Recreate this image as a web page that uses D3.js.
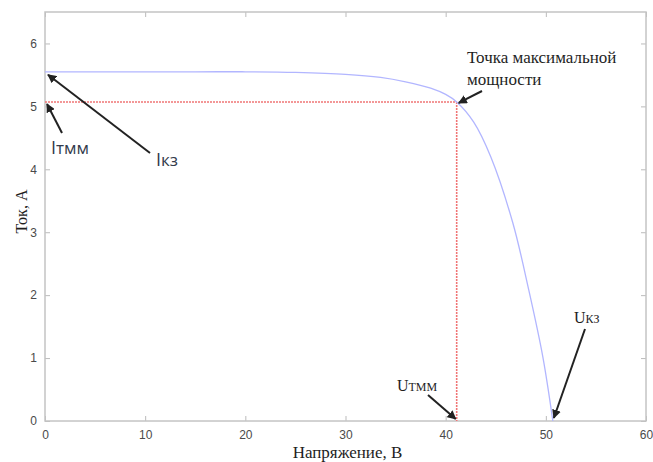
<!DOCTYPE html>
<html>
  <head>
    <meta charset="utf-8" />
    <style>
      body{
        margin: 0;
        background: white;
      }
      .tick text{
        font-family: 'Liberation Sans', Arial, sans-serif;
        font-size: 12px;
        fill: #4a4a4a;
      }
      .serif{
        font-family: 'Liberation Serif', 'Times New Roman', serif;
        fill: #1e1e1e;
      }
      .sans{
        font-family: 'Open Sans', sans-serif;
        fill: #333b4c;
      }
    </style>
  </head>
  <body>
    <script src="https://d3js.org/d3.v7.min.js"></script>
    <svg id="chart"></svg>
    <script>
      var width = 653;
      var height = 462;

      // I-V curve
      var voltage = [0, 5, 10, 15, 20, 25, 30, 33.5, 36, 38.5, 40, 41.1, 42.8, 44.5, 46.7, 48.3, 49.7, 50.7];
      var current = [5.55, 5.55, 5.55, 5.55, 5.55, 5.54, 5.51, 5.46, 5.39, 5.29, 5.19, 5.07, 4.75, 4.2, 3.15, 2.08, 1.02, 0];

      var mppVoltage = 41.1;
      var mppCurrent = 5.07;
      var iscCurrent = 5.55;
      var vocVoltage = 50.7;

      var xTicks = [0, 10, 20, 30, 40, 50, 60];
      var yTicks = [0, 1, 2, 3, 4, 5, 6];

      var margin = {top: 12, right: 7, bottom: 41, left: 45};
      var w = width - margin.left - margin.right;
      var h = height - margin.top - margin.bottom;

      var svg = d3.select("#chart")
        .attr("width", width)
        .attr("height", height);

      var defs = svg.append("defs");
      defs.append("marker")
        .attr("id", "arrow")
        .attr("viewBox", "0 0 10 10")
        .attr("refX", 9)
        .attr("refY", 5)
        .attr("markerWidth", 9)
        .attr("markerHeight", 9)
        .attr("markerUnits", "userSpaceOnUse")
        .attr("orient", "auto")
        .append("path")
        .attr("d", "M0,0 L10,5 L0,10 z")
        .attr("fill", "#222");

      var g = svg.append("g")
        .attr("transform", "translate(" + margin.left + "," + margin.top + ")");

      var x = d3.scaleLinear().domain([0, 60]).range([0, w]);
      var y = d3.scaleLinear().domain([0, 6.5]).range([h, 0]);

      // axes, ticks inside like matlab
      function styleAxis(sel) {
        sel.select(".domain").remove();
        sel.selectAll(".tick line").attr("stroke", "#bbb");
      }

      g.append("g")
        .attr("transform", "translate(0," + h + ")")
        .call(d3.axisBottom(x).tickValues(xTicks).tickSizeInner(-5).tickSizeOuter(0).tickPadding(9).tickFormat(d3.format("d")))
        .call(styleAxis);

      g.append("g")
        .call(d3.axisTop(x).tickValues(xTicks).tickSizeInner(-5).tickSizeOuter(0).tickFormat(""))
        .call(styleAxis);

      g.append("g")
        .call(d3.axisLeft(y).tickValues(yTicks).tickSizeInner(-5).tickSizeOuter(0).tickPadding(8).tickFormat(d3.format("d")))
        .call(styleAxis);

      g.append("g")
        .attr("transform", "translate(" + w + ",0)")
        .call(d3.axisRight(y).tickValues(yTicks).tickSizeInner(-5).tickSizeOuter(0).tickFormat(""))
        .call(styleAxis);

      g.append("rect")
        .attr("width", w)
        .attr("height", h)
        .attr("fill", "none")
        .attr("stroke", "#c4c4c4")
        .attr("stroke-width", 1.5);

      // max power point lines
      var red = "#f07575";
      g.append("line")
        .attr("x1", x(0)).attr("y1", y(mppCurrent))
        .attr("x2", x(mppVoltage)).attr("y2", y(mppCurrent))
        .attr("stroke", red).attr("stroke-width", 1.6)
        .attr("stroke-dasharray", "2,1");
      g.append("line")
        .attr("x1", x(mppVoltage)).attr("y1", y(mppCurrent))
        .attr("x2", x(mppVoltage)).attr("y2", y(0))
        .attr("stroke", red).attr("stroke-width", 1.6)
        .attr("stroke-dasharray", "2,1");

      var pts = voltage.map(function (v, i) { return [v, current[i]]; });
      var line = d3.line()
        .x(function (d) { return x(d[0]); })
        .y(function (d) { return y(d[1]); })
        .curve(d3.curveCatmullRom.alpha(0.5));

      g.append("path")
        .datum(pts)
        .attr("d", line)
        .attr("fill", "none")
        .attr("stroke", "#b2b6ff")
        .attr("stroke-width", 1.3);

      // axis titles
      svg.append("text")
        .attr("class", "serif")
        .attr("x", margin.left + w / 2 + 2)
        .attr("y", 458)
        .attr("text-anchor", "middle")
        .style("font-size", "17px")
        .text("Напряжение, В");

      svg.append("text")
        .attr("class", "serif")
        .attr("transform", "translate(27," + (margin.top + h / 2 - 5) + ") rotate(-90)")
        .attr("text-anchor", "middle")
        .style("font-size", "16px")
        .text("Ток, А");

      // annotations
      function arrow(x1, y1, x2, y2) {
        svg.append("line")
          .attr("x1", x1).attr("y1", y1)
          .attr("x2", x2).attr("y2", y2)
          .attr("stroke", "#222")
          .attr("stroke-width", 2)
          .attr("marker-end", "url(#arrow)");
      }

      var ox = margin.left, oy = margin.top;

      arrow(482, 91, ox + x(mppVoltage) + 2, oy + y(mppCurrent) + 1);
      svg.append("text")
        .attr("class", "serif")
        .attr("x", 467).attr("y", 63)
        .style("font-size", "17px")
        .text("Точка максимальной");
      svg.append("text")
        .attr("class", "serif")
        .attr("x", 467).attr("y", 85)
        .style("font-size", "17px")
        .text("мощности");

      arrow(62, 133, ox + x(0) + 2, oy + y(mppCurrent) + 2);
      var t1 = svg.append("text")
        .attr("class", "sans")
        .attr("x", 51).attr("y", 154)
        .style("font-size", "18px");
      t1.append("tspan").text("I");
      t1.append("tspan").style("font-size", "17px").text("тмм");

      arrow(150, 153, ox + x(0) + 3, oy + y(iscCurrent) + 3);
      var t2 = svg.append("text")
        .attr("class", "sans")
        .attr("x", 156).attr("y", 166)
        .style("font-size", "18px");
      t2.append("tspan").text("I");
      t2.append("tspan").style("font-size", "17px").text("кз");

      arrow(428, 395, ox + x(mppVoltage) - 1, oy + y(0) - 2);
      var t3 = svg.append("text")
        .attr("class", "serif")
        .attr("x", 397).attr("y", 391)
        .style("font-size", "16px");
      t3.append("tspan").text("U");
      t3.append("tspan").style("font-size", "12px").text("ТММ");

      arrow(585, 329, ox + x(vocVoltage) + 1, oy + y(0) - 3);
      var t4 = svg.append("text")
        .attr("class", "serif")
        .attr("x", 574).attr("y", 323)
        .style("font-size", "16px");
      t4.append("tspan").text("U");
      t4.append("tspan").style("font-size", "12px").text("КЗ");
    </script>
  </body>
</html>
